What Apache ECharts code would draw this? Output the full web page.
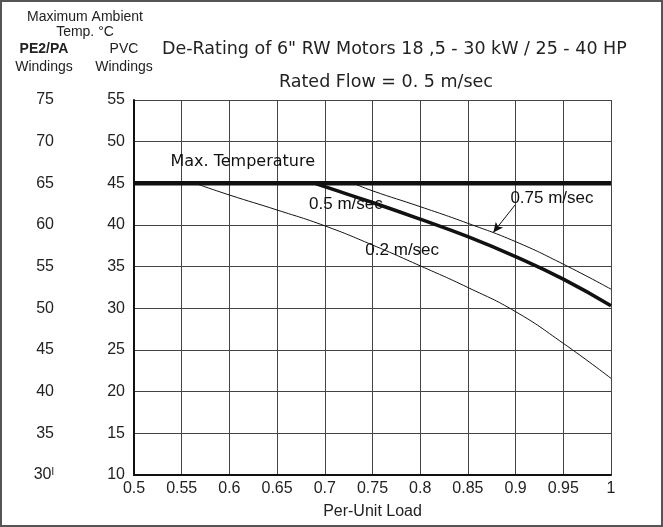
<!DOCTYPE html>
<html>
<head>
<meta charset="utf-8">
<script src="https://cdn.jsdelivr.net/npm/echarts@6/dist/echarts.min.js"></script>
<style>
html,body{margin:0;padding:0;background:#fff;}
#main{width:663px;height:527px;}
</style>
</head>
<body>
<div id="main"></div>
<script>
// ---- data ----
var xTickLabels = ['0.5','0.55','0.6','0.65','0.7','0.75','0.8','0.85','0.9','0.95','1'];
var pvcTickLabels = ['10','15','20','25','30','35','40','45','50','55'];
var pe2TickLabels = ['30ˡ','35','40','45','50','55','60','65','70','75'];
var maxTemp = [[0.5,45],[1.0,45]];
var flow02 = [[0.564,45],[0.6,43.6],[0.65,41.8],[0.7,39.9],[0.75,37.6],[0.8,35.1],[0.85,32.5],[0.9,29.6],[0.95,25.8],[1.0,21.6]];
var flow05 = [[0.69,45],[0.7,44.6],[0.75,42.7],[0.8,40.7],[0.85,38.6],[0.9,36.2],[0.95,33.5],[1.0,30.3]];
var flow075 = [[0.73,45],[0.75,44.1],[0.8,42.2],[0.85,40.2],[0.9,38.0],[0.95,35.3],[1.0,32.3]];
var seriesNames = ['Max. Temperature','0.5 m/sec','0.2 m/sec','0.75 m/sec'];
var labelAnchors = [[0.5377,47.56],[0.683,42.5],[0.742,37.0],[0.894,43.24]];
var arrow075 = [[0.8994,42.4],[0.8766,39.1]];

var chart = echarts.init(document.getElementById('main'), null, {renderer:'canvas'});
var sans = '"Liberation Sans", Arial, sans-serif';
var dv = '"DejaVu Sans", sans-serif';

function idxLabel(arr, min, step){
  return function(v){ var i = Math.round((v-min)/step); return arr[i] !== undefined ? arr[i] : ''; };
}

var labelFonts = [
  {fontFamily: dv, fontSize: 16},
  {fontFamily: sans, fontSize: 17},
  {fontFamily: sans, fontSize: 17},
  {fontFamily: sans, fontSize: 17}
];

var option = {
  animation: false,
  backgroundColor: '#fff',
  grid: {left:134, right:52, top:100, bottom:52, containLabel:false},
  xAxis: {
    type:'value', min:0.5, max:1.0, interval:0.05,
    name:'Per-Unit Load', nameLocation:'middle', nameGap:29,
    nameTextStyle:{fontFamily:sans, fontSize:16, color:'#222'},
    axisLine:{show:true, onZero:false, lineStyle:{color:'#111', width:2}},
    axisTick:{show:false},
    axisLabel:{margin:6, fontFamily:sans, fontSize:16, color:'#222', formatter: idxLabel(xTickLabels,0.5,0.05)},
    splitLine:{show:true, lineStyle:{color:'#444', width:1}}
  },
  yAxis: [
    {
      type:'value', min:10, max:55, interval:5, position:'left',
      axisLine:{show:true, onZero:false, lineStyle:{color:'#111', width:2}},
      axisTick:{show:false},
      axisLabel:{margin:9, fontFamily:sans, fontSize:16, color:'#222', formatter: idxLabel(pvcTickLabels,10,5)},
      splitLine:{show:true, lineStyle:{color:'#444', width:1}}
    },
    {
      type:'value', min:30, max:75, interval:5, position:'left', offset:72,
      axisLine:{show:false}, axisTick:{show:false},
      axisLabel:{margin:8, fontFamily:sans, fontSize:16, color:'#222', formatter: idxLabel(pe2TickLabels,30,5)},
      splitLine:{show:false}
    }
  ],
  title: [
    {text:'De-Rating of 6" RW Motors 18 ,5 - 30 kW / 25 - 40 HP', left:157, top:35,
     textStyle:{fontFamily:dv, fontSize:17.5, fontWeight:'normal', color:'#222'}},
    {text:'Rated Flow = 0. 5 m/sec', left:274, top:68,
     textStyle:{fontFamily:dv, fontSize:17.5, fontWeight:'normal', color:'#222'}}
  ],
  graphic: [
    {type:'rect', shape:{x:1, y:1, width:661, height:525}, style:{fill:'none', stroke:'#555', lineWidth:2}, silent:true},
    {type:'text', x:85, y:17, style:{text:'Maximum Ambient', font:'14px "Liberation Sans", Arial', fill:'#222', align:'center', verticalAlign:'middle'}},
    {type:'text', x:85, y:32, style:{text:'Temp. °C', font:'14px "Liberation Sans", Arial', fill:'#222', align:'center', verticalAlign:'middle'}},
    {type:'text', x:44, y:49, style:{text:'PE2/PA', font:'bold 14px "Liberation Sans", Arial', fill:'#222', align:'center', verticalAlign:'middle'}},
    {type:'text', x:44, y:67, style:{text:'Windings', font:'14px "Liberation Sans", Arial', fill:'#222', align:'center', verticalAlign:'middle'}},
    {type:'text', x:124, y:49, style:{text:'PVC', font:'14px "Liberation Sans", Arial', fill:'#222', align:'center', verticalAlign:'middle'}},
    {type:'text', x:124, y:67, style:{text:'Windings', font:'14px "Liberation Sans", Arial', fill:'#222', align:'center', verticalAlign:'middle'}}
  ],
  series: [
    {type:'line', name:seriesNames[0], data:maxTemp, symbol:'none', lineStyle:{color:'#111', width:4.5}, z:5},
    {type:'line', name:seriesNames[1], data:flow05, symbol:'none', smooth:0.5, lineStyle:{color:'#111', width:3.5}, z:4},
    {type:'line', name:seriesNames[2], data:flow02, symbol:'none', smooth:0.5, lineStyle:{color:'#111', width:1}, z:4},
    {type:'line', name:seriesNames[3], data:flow075, symbol:'none', smooth:0.5, lineStyle:{color:'#111', width:1}, z:4,
     markLine:{silent:true, symbol:['none','arrow'], symbolSize:[7,10], animation:false,
       lineStyle:{color:'#111', width:1, type:'solid'}, label:{show:false},
       data:[[{coord:arrow075[0]},{coord:arrow075[1]}]]}},
    {type:'scatter', symbolSize:1, itemStyle:{color:'rgba(0,0,0,0)'}, z:10, silent:true,
     data: labelAnchors.map(function(p,i){
       return {value:p, label:{show:true, position:'right', distance:0, formatter:seriesNames[i], color:'#111', opacity:1,
         fontFamily:labelFonts[i].fontFamily, fontSize:labelFonts[i].fontSize}};
     })}
  ]
};
chart.setOption(option);
</script>
</body>
</html>
